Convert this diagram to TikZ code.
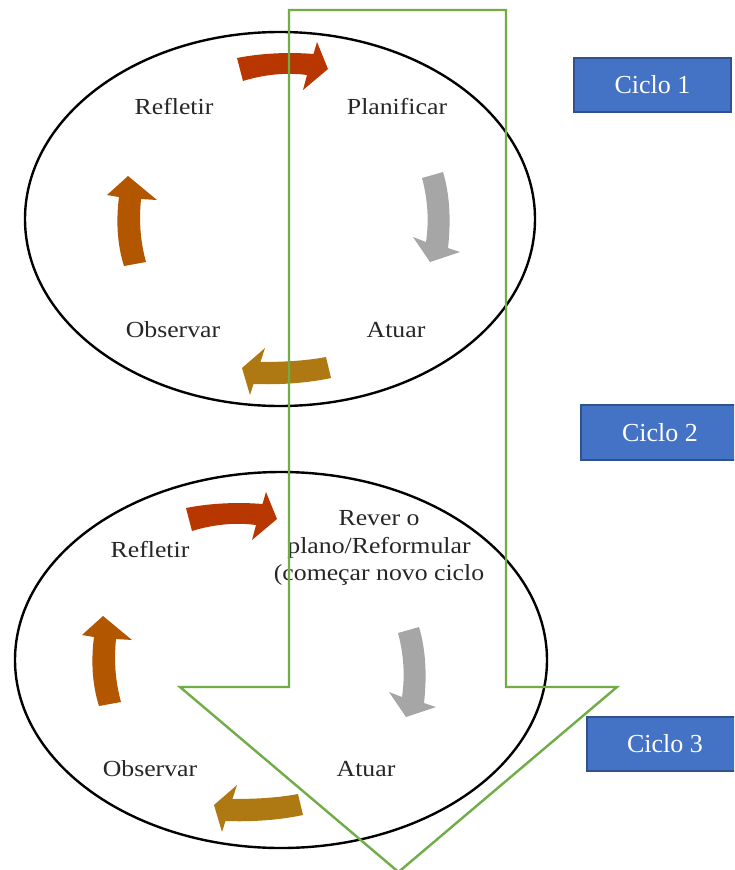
\documentclass[tikz,border=0pt]{standalone}
\usepackage{fontspec}
\setmainfont{Liberation Serif}
\newfontfamily\lblfam[FakeStretch=1.12]{Liberation Serif}
\definecolor{cRed}{HTML}{B83700}
\definecolor{cGray}{HTML}{A6A6A6}
\definecolor{cGold}{HTML}{AE7812}
\definecolor{cOrange}{HTML}{B35600}
\definecolor{cGreen}{HTML}{70AD47}
\definecolor{cBlue}{HTML}{4472C4}
\definecolor{cBlueDark}{HTML}{2F528F}
\tikzset{
  lbl/.style={font=\lblfam\fontsize{23}{27.5}\selectfont, text=black!85, align=center, inner sep=0pt},
  ciclo/.style={draw=cBlueDark, line width=1.5pt, fill=cBlue, text=white, font=\fontsize{26}{30}\selectfont, inner sep=0pt},
  cyc/.style={draw=black, line width=2.4pt},
  bigarrow/.style={draw=cGreen, line width=2.4pt, miter limit=10},
}
\newcommand{\redarrow}{\fill[cRed] (237,58) .. controls (262,53) and (290,52) .. (313.5,54) -- (317,42) -- (328,69) -- (303,90) -- (307,75) .. controls (285,72) and (262,75) .. (243,81) -- cycle;}
\newcommand{\grayarrow}{\fill[cGray] (422,178) .. controls (428,200) and (429,222) .. (426,242) -- (413,237) -- (430,262) -- (460,252) -- (448,248) .. controls (451,222) and (450,195) .. (443,172) -- cycle;}
\newcommand{\goldarrow}{\fill[cGold] (326,357) .. controls (305,361) and (282,362) .. (260.5,362) -- (265,348) -- (242,368) -- (250,395) -- (253.5,384) .. controls (280,385) and (308,383) .. (331,378) -- cycle;}
\newcommand{\orangearrow}{\fill[cOrange] (146,262) .. controls (140,240) and (139,220) .. (141,199) -- (157,200) -- (128,176) -- (107,195) -- (119,197) .. controls (116,220) and (117,244) .. (124,266) -- cycle;}
\begin{document}
\begin{tikzpicture}[x=1pt,y=-1pt]
\useasboundingbox (0,0) rectangle (734,870);
\clip (0,0) rectangle (734,870);
\fill[white] (0,0) rectangle (734,870);
% cycle 1
\draw[cyc] (280,219) ellipse [x radius=255pt, y radius=187pt];
\redarrow
\grayarrow
\goldarrow
\orangearrow
\node[lbl] (r1) at (174,107) {Refletir};
\node[lbl] (p1) at (397,107) {Planificar};
\node[lbl] (o1) at (173,330) {Observar};
\node[lbl] (a1) at (396,330) {Atuar};
% cycle 2
\draw[cyc] (281,660) ellipse [x radius=266pt, y radius=188pt];
\begin{scope}[shift={(-51,450)}]\redarrow\end{scope}
\begin{scope}[shift={(-24,455)}]\grayarrow\end{scope}
\begin{scope}[shift={(-28,437)}]\goldarrow\end{scope}
\begin{scope}[shift={(-25,440)}]\orangearrow\end{scope}
\node[lbl] (r2) at (150,550) {Refletir};
\node[lbl] (p2) at (379,548) {Rever o\\plano/Reformular\\(começar novo ciclo};
\node[lbl] (o2) at (150,769) {Observar};
\node[lbl] (a2) at (366,769) {Atuar};
% big green arrow
\draw[bigarrow] (289,10) -- (506,10) -- (506,687) -- (617,687) -- (398.5,872) -- (180,687) -- (289,687) -- cycle;
% cycle boxes
\node[ciclo, minimum width=157pt, minimum height=54pt] (c1) at (652.5,85) {Ciclo 1};
\node[ciclo, minimum width=158pt, minimum height=55pt] (c2) at (660,432.5) {Ciclo 2};
\node[ciclo, minimum width=156pt, minimum height=54pt] (c3) at (665,744) {Ciclo 3};
\end{tikzpicture}
\end{document}
